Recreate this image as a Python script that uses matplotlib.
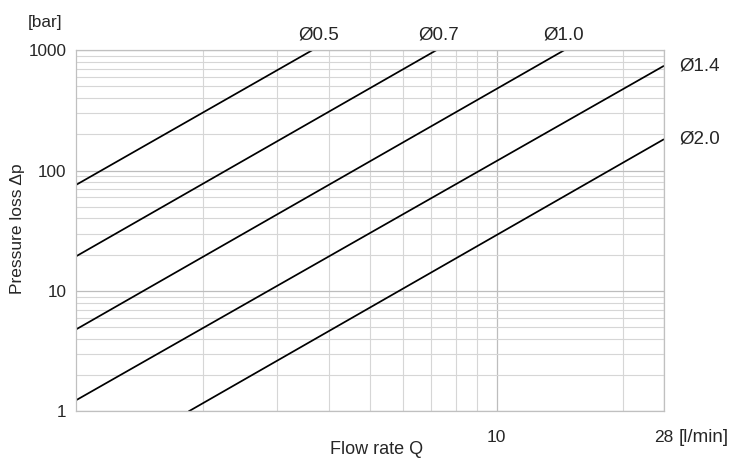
import matplotlib
matplotlib.use("Agg")
import matplotlib.pyplot as plt
from matplotlib.ticker import LogLocator, NullFormatter

plt.rcParams['font.family'] = ['Liberation Sans', 'DejaVu Sans']

# Data (flow rate Q [l/min], pressure loss [bar])
labels = ["Ø0.5", "Ø0.7", "Ø1.0", "Ø1.4", "Ø2.0"]
q_05 = [1.0, 3.65]
p_05 = [76.0, 1000.0]
q_07 = [1.0, 7.2]
p_07 = [19.4, 1000.0]
q_10 = [1.0, 14.5]
p_10 = [4.8, 1000.0]
q_14 = [1.0, 25.0]
p_14 = [1.24, 740.0]
q_20 = [1.85, 25.0]
p_20 = [1.0, 182.0]
x_min, x_max = 1.0, 25.0
y_min, y_max = 1.0, 1000.0
x_tick_pos = [10, x_max]
x_tick_labels = ["10", "28"]
y_ticks = [1, 10, 100, 1000]
y_tick_labels = ["1", "10", "100", "1000"]
# x (flow rate) where the top labels sit
top_label_q = [3.77, 7.27, 14.45]

series_q = [q_05, q_07, q_10, q_14, q_20]
series_p = [p_05, p_07, p_10, p_14, p_20]

TXT = '#262626'

fig = plt.figure(figsize=(7.3, 4.59), dpi=100)
ax = fig.add_axes([0.1042, 0.1035, 0.8054, 0.7875])
ax.set_xscale('log')
ax.set_yscale('log')
ax.set_xlim(x_min, x_max)
ax.set_ylim(y_min, y_max)

ax.xaxis.set_minor_locator(LogLocator(base=10, subs=range(2, 10)))
ax.yaxis.set_minor_locator(LogLocator(base=10, subs=range(2, 10)))
ax.xaxis.set_minor_formatter(NullFormatter())
ax.yaxis.set_minor_formatter(NullFormatter())
ax.set_xticks(x_tick_pos)
ax.set_xticklabels(x_tick_labels)
ax.set_yticks(y_ticks)
ax.set_yticklabels(y_tick_labels)

ax.grid(which='major', color='#bdbdbd', linewidth=0.9)
ax.grid(which='minor', color='#d6d6d6', linewidth=0.8)
ax.set_axisbelow(True)
for s in ax.spines.values():
    s.set_color('#c0c0c0')
    s.set_linewidth(0.9)
ax.tick_params(which='both', length=0)
ax.tick_params(axis='x', pad=13.5, labelsize=12.5, colors=TXT)
ax.tick_params(axis='y', pad=7, labelsize=12.3, colors=TXT)

for q, p in zip(series_q, series_p):
    ax.plot(q, p, color='black', linewidth=1.25, solid_capstyle='butt')

# Labels of the lines ending at the top edge
for i in range(3):
    ax.annotate(labels[i], xy=(top_label_q[i], 1.0), xycoords=('data', 'axes fraction'),
                xytext=(0, 4.5), textcoords='offset points', ha='center', va='bottom',
                fontsize=13.5, color=TXT)

# Labels of the lines ending at the right edge
for i in range(3, 5):
    ax.annotate(labels[i], xy=(1.0, series_p[i][-1]), xycoords=('axes fraction', 'data'),
                xytext=(11, 0), textcoords='offset points', ha='left', va='center',
                fontsize=13.5, color=TXT)

fig.text(45/730, 1 - 22/459, "[bar]", ha='center', va='center', fontsize=12.3, color=TXT)
fig.text(679/730, 1 - 437/459, "[l/min]", ha='left', va='center', fontsize=13.5, color=TXT)
fig.text(377/730, 1 - 450/459, "Flow rate Q", ha='center', va='center', fontsize=13, color=TXT)
fig.text(17.5/730, 1 - 229/459, "Pressure loss Δp", ha='center', va='center', rotation=90,
         fontsize=12.5, color=TXT)

fig.savefig("out.png", dpi=100)
